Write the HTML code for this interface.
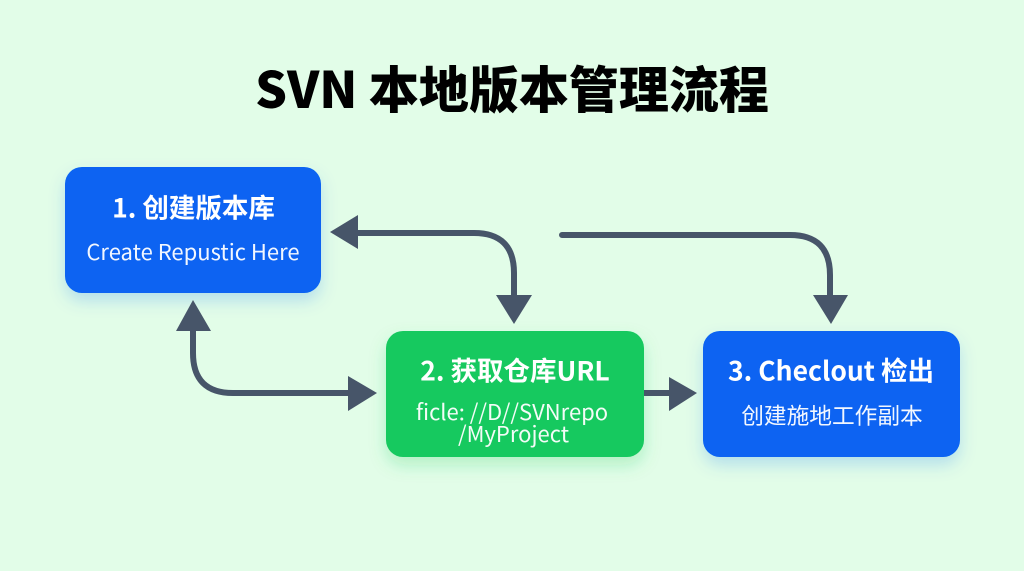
<!DOCTYPE html>
<html lang="zh">
<head>
<meta charset="utf-8">
<title>SVN 本地版本管理流程</title>
<style>
html,body{margin:0;padding:0;width:1024px;height:571px;overflow:hidden;background:#e2fde8}
svg{display:block}
text{font-family:"Noto Sans CJK SC","Liberation Sans",sans-serif}
.h{font-weight:700;font-size:26.5px;fill:#fff;text-anchor:middle}
.s{font-weight:400;font-size:22px;fill:#fff;text-anchor:middle;fill-opacity:.95}
</style>
</head>
<body>
<svg width="1024" height="571" viewBox="0 0 1024 571" xmlns="http://www.w3.org/2000/svg">
<defs>
<filter id="sb" x="-20%" y="-20%" width="140%" height="150%"><feDropShadow dx="0" dy="8" stdDeviation="8" flood-color="#0a66f5" flood-opacity=".2"/></filter>
<filter id="sg" x="-20%" y="-20%" width="140%" height="150%"><feDropShadow dx="0" dy="8" stdDeviation="8" flood-color="#15c95f" flood-opacity=".25"/></filter>
</defs>
<rect width="1024" height="571" fill="#e2fde8"/>
<text x="512" y="108" font-size="50" font-weight="900" text-anchor="middle" fill="#000">SVN 本地版本管理流程</text>

<rect x="65" y="167" width="256" height="126" rx="17" fill="#0764f2" filter="url(#sb)"/>
<rect x="386" y="331" width="258" height="126" rx="17" fill="#15c95f" filter="url(#sg)"/>
<rect x="703" y="331" width="257" height="126" rx="17" fill="#0764f2" filter="url(#sb)"/>

<text class="h" x="193.500" y="217.500">1. 创建版本库</text>
<text class="s" x="193" y="260">Create Repustic Here</text>
<text class="h" x="515" y="380.500">2. 获取仓库URL</text>
<text class="s" x="512" y="420">ficle: //D//SVNrepo</text>
<text class="s" x="513.500" y="442">/MyProject</text>
<text class="h" x="831" y="380.500">3. Checlout 检出</text>
<text class="s" x="832" y="424" style="font-size:22.700px">创建施地工作副本</text>

<g fill="none" stroke="#475569" stroke-width="6">
<path d="M356 233H474Q514 233 514 273V297"/>
<path d="M562 235H790Q830 235 830 275V297" stroke-linecap="round"/>
<path d="M193 329V353Q193 393 233 393H350"/>
<path d="M644 393H671"/>
</g>
<g fill="#475569">
<polygon points="330,232 358,215 358,249"/>
<polygon points="514,324 496,295 532,295"/>
<polygon points="831,324 813,295 848,295"/>
<polygon points="193,300 176,331 211,331"/>
<polygon points="377,393 348,376 348,411"/>
<polygon points="697,393 669,377 669,411"/>
</g>
</svg>
</body>
</html>
